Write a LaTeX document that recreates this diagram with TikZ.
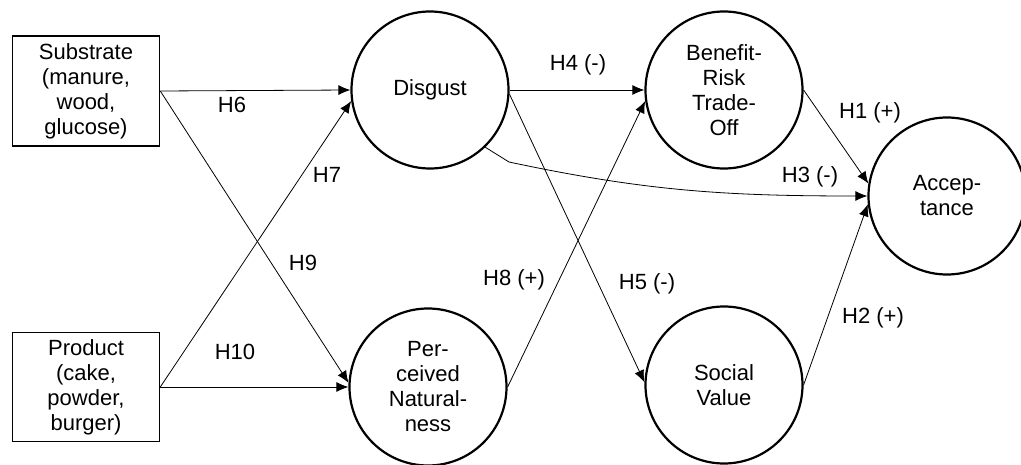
\documentclass[tikz,border=0pt]{standalone}
\usepackage{fontspec}
\setmainfont{Liberation Sans}
\usetikzlibrary{positioning, arrows.meta}

\begin{document}
\begin{tikzpicture}[
    x=1pt, y=1pt,
    every node/.style={font=\fontsize{22}{25}\selectfont},
    manip/.style={
        draw,
        line width=1.6pt,
        minimum width=147pt,
        inner sep=0pt,
        align=center,
    },
    construct/.style={
        circle,
        draw,
        line width=2.2pt,
        minimum size=157pt,
        inner sep=0pt,
        align=center,
    },
    hyp/.style={
        -{Latex[length=12pt, width=10pt]},
        line width=0.8pt,
    },
    hlabel/.style={
        inner sep=0pt,
    },
]
\useasboundingbox (0,0) rectangle (1021,464);

% ===== Manipulationen (links) =====
\node[manip, minimum height=110pt] (substrat) at (86,373) {
    Substrate\\(manure,\\wood,\\glucose)
};
\node[manip, minimum height=109pt] (produkt) at (86,77) {
    Product\\(cake,\\powder,\\burger)
};

% ===== Konstrukte =====
\node[construct] (ekel) at (430,374) {Disgust};
\node[construct] (natur) at (428,77) {Per-\\ceived\\Natural-\\ness};
\node[construct] (nutzen) at (724,374) {Benefit-\\Risk\\Trade-\\Off};
\node[construct] (sozial) at (724,79) {Social\\Value};
\node[construct] (akzeptanz) at (947,268) {Accep-\\tance};

% ===== Hypothesen H6 - H10 =====
\draw[hyp] (substrat.east) -- (ekel.west);
\draw[hyp] (substrat.east) -- (natur.177);
\draw[hyp] (produkt.east) -- (ekel.188);
\draw[hyp] (produkt.east) -- (natur.west);
\draw[hyp] (natur.east) -- (nutzen.188);

% ===== Hypothesen H1 - H5 =====
\draw[hyp] (ekel.east) -- (nutzen.west);
\draw[hyp] (ekel.357) -- (sozial.178);
\coordinate (knick) at (509,302);
\draw[hyp] (ekel.-46) -- (knick) to[out=-12, in=180] (akzeptanz.west);
\draw[hyp] (nutzen.east) -- (akzeptanz.171);
\draw[hyp] (sozial.east) -- (akzeptanz.186);

% ===== Beschriftungen =====
\node[hlabel] (lH6) at (232,359) {H6};
\node[hlabel] (lH7) at (327,289) {H7};
\node[hlabel] (lH9) at (303,201) {H9};
\node[hlabel] (lH10) at (235,112) {H10};
\node[hlabel] (lH4) at (578,399) {H4 (-)};
\node[hlabel] (lH8) at (514,184) {H8 (+)};
\node[hlabel] (lH5) at (647,180) {H5 (-)};
\node[hlabel] (lH1) at (870,351) {H1 (+)};
\node[hlabel] (lH3) at (810,287) {H3 (-)};
\node[hlabel] (lH2) at (873,146) {H2 (+)};

\end{tikzpicture}
\end{document}
